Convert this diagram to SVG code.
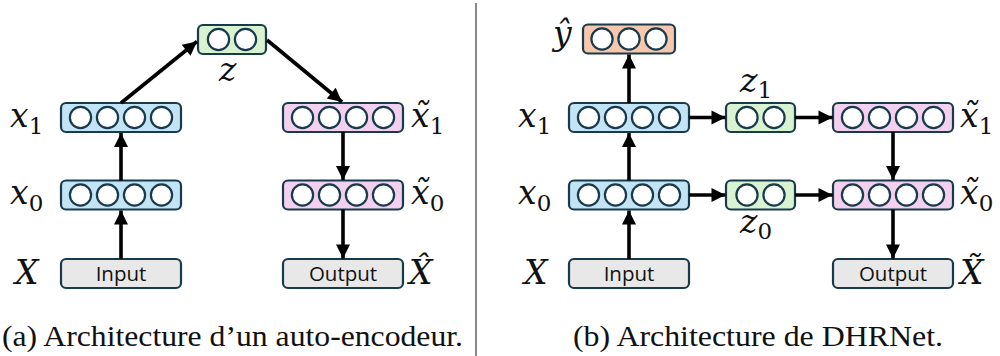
<svg xmlns="http://www.w3.org/2000/svg" width="1000" height="356" viewBox="0 0 1000 356">
  <style>
    .box { stroke: #173a4c; stroke-width: 2.2; }
    .blue { fill: #c3e4f5; }
    .green { fill: #d9f2d0; }
    .pink { fill: #f2d0ee; }
    .peach { fill: #f6c7ad; }
    .grey { fill: #e8e8e8; }
    .unit { fill: #ffffff; stroke: #173a4c; stroke-width: 2.2; }
    .lbl { font-family: "Open Sans", "Liberation Sans", sans-serif; font-size: 20.5px; fill: #111; text-anchor: middle; }
    .var { font-family: "DejaVu Serif", serif; font-style: italic; font-size: 33px; fill: #111; }
    .sub { font-family: "DejaVu Serif", serif; font-style: normal; font-size: 23px; fill: #111; }
    .cap { font-family: "Liberation Serif", serif; font-size: 29px; fill: #111; }
    .arrow { stroke: #000; stroke-width: 3.6; fill: none; marker-end: url(#head); }
  </style>
  <defs>
    <marker id="head" markerUnits="userSpaceOnUse" markerWidth="16" markerHeight="16" viewBox="0 0 16 16" refX="15" refY="8" orient="auto">
      <path d="M1,1 L15,8 L1,15 Z" fill="#000"/>
    </marker>
    <!-- layer of four units -->
    <g id="units4">
      <circle class="unit" cx="-40.5" cy="0" r="10.6"/>
      <circle class="unit" cx="-13.5" cy="0" r="10.6"/>
      <circle class="unit" cx="13.5" cy="0" r="10.6"/>
      <circle class="unit" cx="40.5" cy="0" r="10.6"/>
    </g>
    <g id="units3">
      <circle class="unit" cx="-27" cy="0" r="10.6"/>
      <circle class="unit" cx="0" cy="0" r="10.6"/>
      <circle class="unit" cx="27" cy="0" r="10.6"/>
    </g>
    <g id="units2">
      <circle class="unit" cx="-13.5" cy="0" r="10.6"/>
      <circle class="unit" cx="13.5" cy="0" r="10.6"/>
    </g>
  </defs>

  <!-- separator between the two panels -->
  <line x1="476" y1="3" x2="476" y2="356" stroke="#888" stroke-width="2"/>

  <!-- ===== (a) auto-encoder ===== -->
  <g id="a-input">
    <rect class="box grey" x="61" y="259" width="120" height="29" rx="5"/>
    <text class="lbl" x="121" y="281">Input</text>
  </g>
  <g id="a-x0">
    <rect class="box blue" x="61" y="180.5" width="120" height="29" rx="5"/>
    <use href="#units4" x="121" y="195"/>
  </g>
  <g id="a-x1">
    <rect class="box blue" x="61" y="103" width="120" height="29" rx="5"/>
    <use href="#units4" x="121" y="117.5"/>
  </g>
  <g id="a-z">
    <rect class="box green" x="198" y="25" width="68" height="29" rx="5"/>
    <use href="#units2" x="232" y="39.5"/>
  </g>
  <g id="a-xt1">
    <rect class="box pink" x="283" y="103" width="120" height="29" rx="5"/>
    <use href="#units4" x="343" y="117.5"/>
  </g>
  <g id="a-xt0">
    <rect class="box pink" x="283" y="180.5" width="120" height="29" rx="5"/>
    <use href="#units4" x="343" y="195"/>
  </g>
  <g id="a-output">
    <rect class="box grey" x="283" y="259" width="120" height="29" rx="5"/>
    <text class="lbl" x="343" y="281">Output</text>
  </g>

  <!-- ===== (b) DHRNet ===== -->
  <g id="b-input">
    <rect class="box grey" x="569" y="259" width="120" height="29" rx="5"/>
    <text class="lbl" x="629" y="281">Input</text>
  </g>
  <g id="b-x0">
    <rect class="box blue" x="569" y="180.5" width="120" height="29" rx="5"/>
    <use href="#units4" x="629" y="195"/>
  </g>
  <g id="b-x1">
    <rect class="box blue" x="569" y="103" width="120" height="29" rx="5"/>
    <use href="#units4" x="629" y="117.5"/>
  </g>
  <g id="b-yhat">
    <rect class="box peach" x="583" y="24.5" width="92" height="29" rx="5"/>
    <use href="#units3" x="629" y="39"/>
  </g>
  <g id="b-z1">
    <rect class="box green" x="726" y="103" width="69" height="29" rx="5"/>
    <use href="#units2" x="760.5" y="117.5"/>
  </g>
  <g id="b-z0">
    <rect class="box green" x="726" y="180.5" width="69" height="29" rx="5"/>
    <use href="#units2" x="760.5" y="195"/>
  </g>
  <g id="b-xt1">
    <rect class="box pink" x="833" y="103" width="120" height="29" rx="5"/>
    <use href="#units4" x="893" y="117.5"/>
  </g>
  <g id="b-xt0">
    <rect class="box pink" x="833" y="180.5" width="120" height="29" rx="5"/>
    <use href="#units4" x="893" y="195"/>
  </g>
  <g id="b-output">
    <rect class="box grey" x="833" y="259" width="120" height="29" rx="5"/>
    <text class="lbl" x="893" y="281">Output</text>
  </g>

  <!-- connectors -->
  <g id="connectors">
    <line class="arrow" x1="121" y1="259" x2="121" y2="210.5"/>
    <line class="arrow" x1="121" y1="180.5" x2="121" y2="133"/>
    <line class="arrow" x1="121" y1="103" x2="197" y2="41.5"/>
    <line class="arrow" x1="267" y1="40" x2="342" y2="102"/>
    <line class="arrow" x1="343" y1="132" x2="343" y2="180"/>
    <line class="arrow" x1="343" y1="209.5" x2="343" y2="258.5"/>

    <line class="arrow" x1="629" y1="259" x2="629" y2="210.5"/>
    <line class="arrow" x1="629" y1="180.5" x2="629" y2="133"/>
    <line class="arrow" x1="629" y1="103" x2="629" y2="54.5"/>
    <line class="arrow" x1="689" y1="117.5" x2="725.5" y2="117.5"/>
    <line class="arrow" x1="795" y1="117.5" x2="832.5" y2="117.5"/>
    <line class="arrow" x1="689" y1="195" x2="725.5" y2="195"/>
    <line class="arrow" x1="795" y1="195" x2="832.5" y2="195"/>
    <line class="arrow" x1="893" y1="132" x2="893" y2="180"/>
    <line class="arrow" x1="893" y1="209.5" x2="893" y2="258.5"/>
  </g>

  <!-- variable names -->
  <g id="labels">
    <text class="var" x="10" y="127">x<tspan class="sub" dy="7">1</tspan></text>
    <text class="var" x="10" y="204">x<tspan class="sub" dy="7">0</tspan></text>
    <text class="var" x="15" y="284">X</text>
    <text class="var" x="219" y="81">z</text>
    <text class="var" x="411" y="127">x̃<tspan class="sub" dy="7">1</tspan></text>
    <text class="var" x="411" y="204">x̃<tspan class="sub" dy="7">0</tspan></text>
    <text class="var" x="409" y="284">X̂</text>

    <text class="var" x="553" y="45">ŷ</text>
    <text class="var" x="518" y="127">x<tspan class="sub" dy="7">1</tspan></text>
    <text class="var" x="518" y="204">x<tspan class="sub" dy="7">0</tspan></text>
    <text class="var" x="524" y="284">X</text>
    <text class="var" x="740" y="92">z<tspan class="sub" dy="6">1</tspan></text>
    <text class="var" x="740" y="233">z<tspan class="sub" dy="6">0</tspan></text>
    <text class="var" x="960" y="127">x̃<tspan class="sub" dy="7">1</tspan></text>
    <text class="var" x="960" y="204">x̃<tspan class="sub" dy="7">0</tspan></text>
    <text class="var" x="960" y="284">X̃</text>
  </g>

  <!-- captions -->
  <text class="cap" x="2" y="346" textLength="461" lengthAdjust="spacingAndGlyphs">(a) Architecture d’un auto-encodeur.</text>
  <text class="cap" x="573" y="346" textLength="370" lengthAdjust="spacingAndGlyphs">(b) Architecture de DHRNet.</text>
</svg>
